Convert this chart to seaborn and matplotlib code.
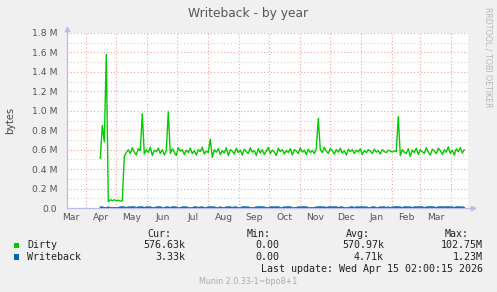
import matplotlib
matplotlib.use("Agg")
import matplotlib.pyplot as plt
import seaborn as sns
import pandas as pd
from datetime import datetime
from matplotlib.patches import Rectangle

# ---------------- data ----------------
title = "Writeback - by year"
y_label = "bytes"
series_names = ["Dirty", "Writeback"]
series_colors = ["#00cc00", "#0066b3"]
start_date = "2025-04-15"
step_days = 2

# Dirty, in thousands of bytes, one value every 2 days
dirty_k = [
    510, 850, 680, 1580, 65, 85, 75, 85, 75, 80, 70, 75, 530, 570,
    600, 560, 620, 575, 545, 610, 590,
    970,
    555, 600, 570, 625, 540, 595, 580, 615, 560, 600, 545, 590,
    990,
    560, 610, 575, 540, 620, 585, 600, 550, 595, 570, 615, 560, 590, 545, 600, 580, 625, 555, 585, 570,
    710,
    520, 600, 575, 610, 550, 590, 565, 620, 540, 600, 585, 555, 615, 570, 595, 545, 605, 580, 560, 620,
    575, 590, 540, 610, 565, 600, 550, 585, 625, 560, 595, 575, 540, 615, 580, 600, 555, 590, 570, 610,
    545, 600, 585, 560, 620, 575, 595, 550, 605, 570, 590, 560, 610,
    920,
    600, 570, 625, 585, 560, 610, 590, 555, 600, 575, 615, 565, 590, 545, 605, 580, 600, 560, 595, 575,
    610, 550, 590, 570, 600, 585, 560, 605, 575, 590, 555, 600, 580, 570, 595, 585, 575, 590, 580,
    940,
    540, 600, 575, 560, 610, 530, 595, 570, 615, 550, 600, 580, 560, 620, 575, 545, 605, 585, 560, 615,
    590, 550, 600, 575, 630, 560, 595, 545, 610, 580, 620, 565, 600,
]

# Writeback, in thousands of bytes
writeback_k = [
    6, 8, 0, 0, 7, 0, 0, 0, 0, 0,
    8, 9, 7, 0, 8, 7, 9, 8, 0, 7,
    8, 9, 0, 8, 7, 8, 0, 0, 7, 8,
    9, 0, 0, 8, 7, 0, 8, 9, 7, 0,
    0, 8, 7, 9, 0, 0, 0, 8, 9, 0,
    7, 8, 0, 0, 8, 9, 7, 8, 0, 0,
    8, 0, 0, 7, 8, 9, 0, 8, 7, 0,
    0, 8, 9, 7, 8, 0, 0, 0, 8, 7,
    9, 8, 7, 0, 0, 8, 9, 7, 8, 9,
    0, 0, 8, 7, 9, 8, 0, 0, 0, 8,
    7, 9, 8, 8, 0, 0, 0, 0, 7, 8,
    9, 7, 8, 0, 8, 9, 7, 8, 9, 0,
    8, 7, 0, 0, 0, 8, 9, 0, 8, 7,
    9, 8, 7, 8, 0, 0, 8, 9, 0, 0,
    8, 7, 9, 0, 8, 0, 7, 8, 9, 8,
    7, 0, 8, 9, 7, 8, 0, 8, 7, 9,
    8, 9, 0, 7, 8, 9, 8, 7, 0, 8,
    9, 7, 8, 8, 9, 7, 8, 0, 8, 9,
    7, 8, 3,
]

month_labels = ["Mar", "Apr", "May", "Jun", "Jul", "Aug", "Sep", "Oct",
                "Nov", "Dec", "Jan", "Feb", "Mar"]
y_ticks = [0, 200000, 400000, 600000, 800000, 1000000, 1200000, 1400000, 1600000, 1800000]
y_tick_labels = ["0.0", "0.2 M", "0.4 M", "0.6 M", "0.8 M", "1.0 M", "1.2 M", "1.4 M", "1.6 M", "1.8 M"]

legend_header = ["Cur:", "Min:", "Avg:", "Max:"]
dirty_stats = ["576.63k", "0.00", "570.97k", "102.75M"]
writeback_stats = ["3.33k", "0.00", "4.71k", "1.23M"]
last_update = "Last update: Wed Apr 15 02:00:15 2026"
munin_version = "Munin 2.0.33-1~bpo8+1"
side_text = "RRDTOOL / TOBI OETIKER"

# ---------------- frame ----------------
dates = pd.date_range(start_date, periods=len(dirty_k), freq=f"{step_days}D")
df = pd.DataFrame({
    "date": dates,
    "Dirty": [v * 1000 for v in dirty_k],
    "Writeback": [v * 1000 for v in writeback_k],
})

sns.set_style("white")
plt.rcParams["font.family"] = ["DejaVu Sans"]

W, H = 497, 292
fig = plt.figure(figsize=(W / 100, H / 100), dpi=100, facecolor="#f0f0f0")

def fx(x):
    return x / W

def fy(y):
    return 1 - y / H

ax_l, ax_r, ax_t, ax_b = 67, 468, 33, 208
ax = fig.add_axes([fx(ax_l), fy(ax_b), (ax_r - ax_l) / W, (ax_b - ax_t) / H])
ax.set_facecolor("white")

sns.lineplot(data=df, x="date", y="Dirty", ax=ax, color=series_colors[0], linewidth=1.0, zorder=3)
sns.lineplot(data=df, x="date", y="Writeback", ax=ax, color=series_colors[1], linewidth=1.3, zorder=5)

x_left = datetime(2025, 3, 12, 17)
x_right = datetime(2026, 4, 17, 17)
ax.set_xlim(x_left, x_right)
ax.set_ylim(0, 1800000)

month_starts = pd.date_range("2025-03-01", "2026-05-01", freq="MS")
grid_months = [d for d in month_starts if x_left < d < x_right]
mid_months = [month_starts[i] + (month_starts[i + 1] - month_starts[i]) / 2
              for i in range(len(month_labels))]

ax.set_xticks(grid_months)
ax.set_xticklabels([""] * len(grid_months))
ax.set_xticks(mid_months, minor=True)
ax.set_xticklabels(month_labels, minor=True)

ax.set_yticks(y_ticks)
ax.set_yticklabels(y_tick_labels)
ax.set_yticks([v + 100000 for v in y_ticks[:-1]], minor=True)

red = "#f2a4a4"
grey = "#d2d2d2"
dot = (0, (1, 2))
ax.grid(which="major", axis="both", color=red, linestyle=dot, linewidth=0.8, zorder=1)
ax.grid(which="minor", axis="y", color=grey, linestyle=dot, linewidth=0.8, zorder=1)

ax.tick_params(axis="x", which="major", length=3, color=red, width=0.8, direction="out")
ax.tick_params(axis="x", which="minor", length=0, pad=3.5, labelsize=6.7, labelcolor="#555555")
ax.tick_params(axis="y", which="major", length=2, color=red, width=0.8, pad=5, labelsize=6.7, labelcolor="#555555")
ax.tick_params(axis="y", which="minor", length=2, color=grey, width=0.8)

for s in ax.spines.values():
    s.set_visible(False)
ax.set_xlabel("")
ax.set_ylabel("")
if ax.get_legend() is not None:
    ax.get_legend().remove()

axis_col = "#b8bce8"
ax.plot([0, 1.012], [0, 0], transform=ax.transAxes, color=axis_col, lw=0.9, clip_on=False, zorder=6)
ax.plot([0, 0], [0, 1.02], transform=ax.transAxes, color=axis_col, lw=0.9, clip_on=False, zorder=6)
ax.plot([1.012], [0], transform=ax.transAxes, marker=">", color=axis_col, markersize=3.2, clip_on=False, zorder=6)
ax.plot([0], [1.025], transform=ax.transAxes, marker="^", color=axis_col, markersize=3.2, clip_on=False, zorder=6)

# ---------------- texts ----------------
fig.text(fx(248), fy(13), title, ha="center", va="center", fontsize=8.8, color="#555555")
fig.text(fx(10), fy(120), y_label, ha="center", va="center", rotation=90, fontsize=7, color="#444444")
fig.text(fx(488), fy(57), side_text, ha="center", va="center", rotation=270, fontsize=5.7, color="#b8b8b8")

mono = dict(family="DejaVu Sans Mono", fontsize=7.2, color="#222222", va="center")
header_right = [171, 271, 370, 469]
value_right = [185, 279, 384, 483]
for txt, xr in zip(legend_header, header_right):
    fig.text(fx(xr), fy(234), txt, ha="right", **mono)
for row_y, name, col, stats in [(245.5, series_names[0], series_colors[0], dirty_stats),
                               (257, series_names[1], series_colors[1], writeback_stats)]:
    fig.patches.append(Rectangle((fx(14), fy(row_y + 2.6)), 5.2 / W, 5.2 / H,
                                 transform=fig.transFigure, facecolor=col, edgecolor="none"))
    fig.text(fx(27), fy(row_y), name, ha="left", **mono)
    for txt, xr in zip(stats, value_right):
        fig.text(fx(xr), fy(row_y), txt, ha="right", **mono)
fig.text(fx(483), fy(269.5), last_update, ha="right", **mono)
fig.text(fx(248), fy(281), munin_version, ha="center", va="center", fontsize=5.8, color="#aaaaaa")

fig.savefig("out.png", dpi=100, facecolor=fig.get_facecolor())
